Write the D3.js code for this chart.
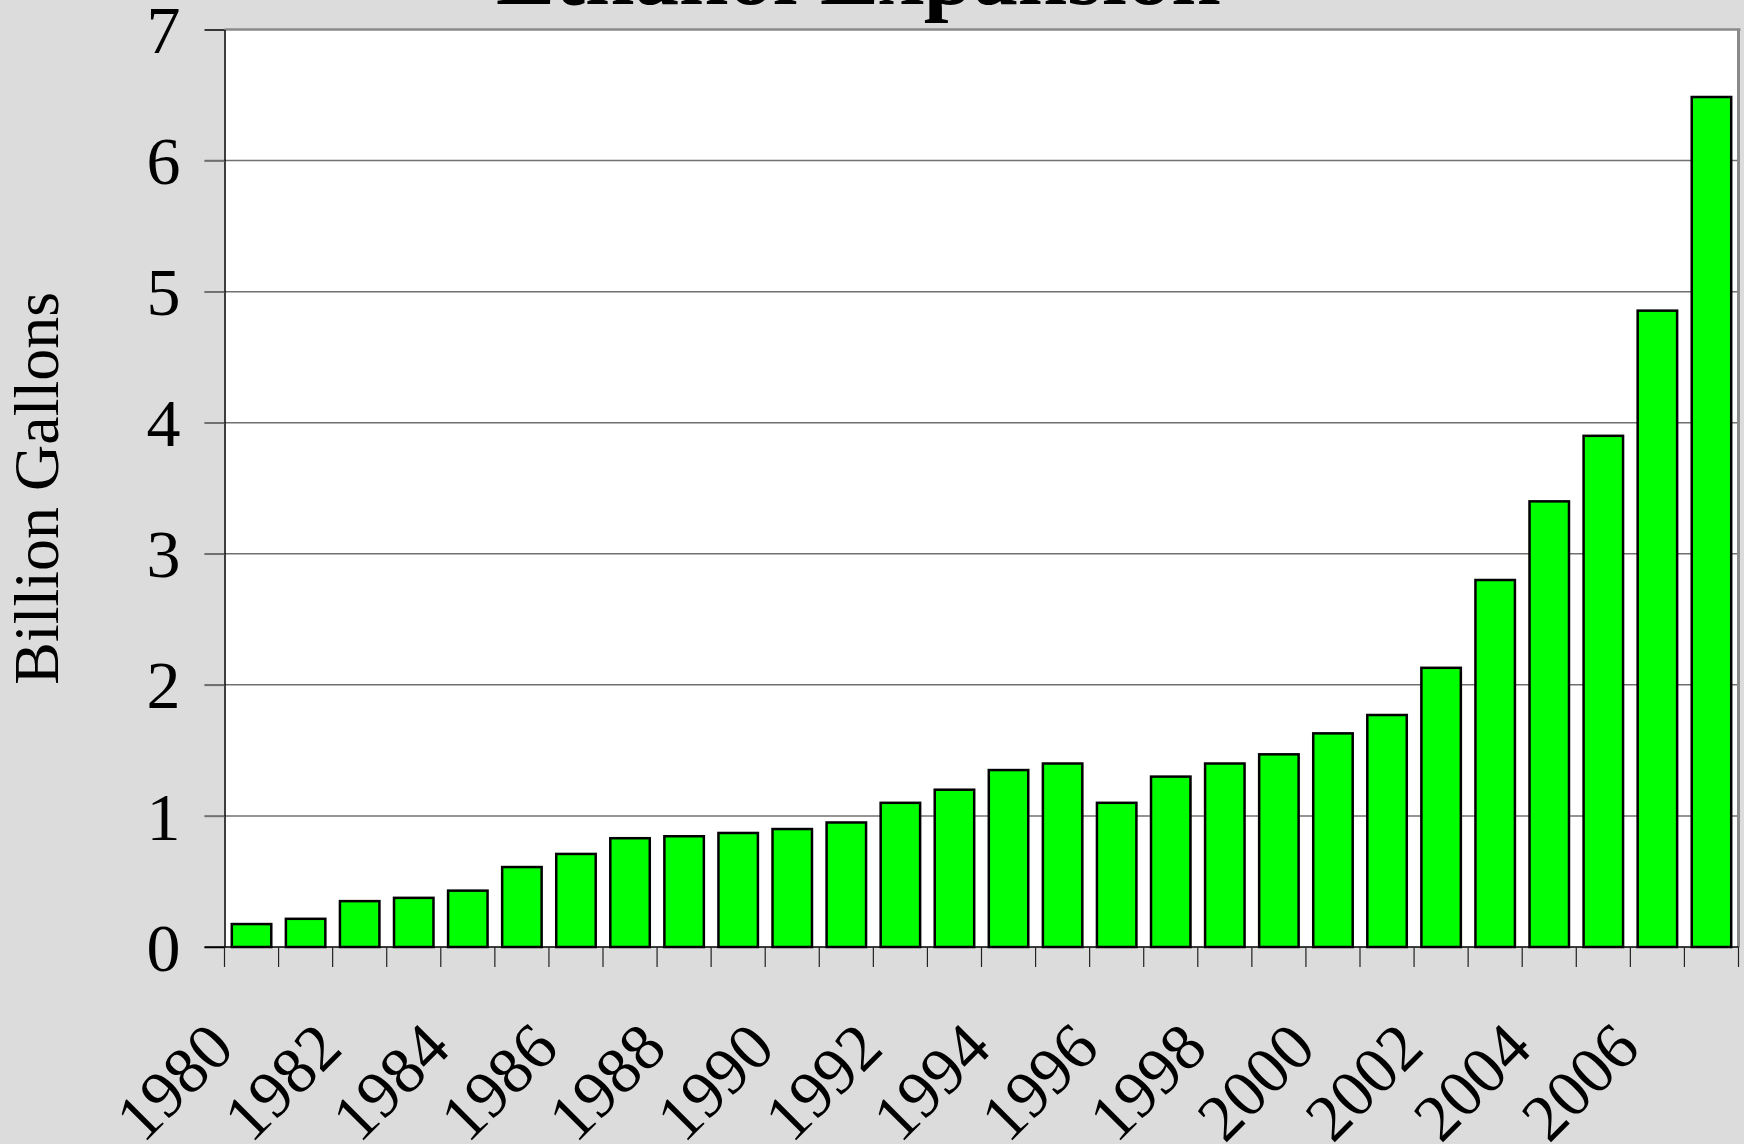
<!DOCTYPE html>
<html><head><meta charset="utf-8">
<script src="https://cdn.jsdelivr.net/npm/d3@7"></script>
<style>
html,body{margin:0;padding:0;background:#dcdcdc;}
svg{display:block;}
text{font-family:"Liberation Serif","Times New Roman",serif;fill:#000;}
</style></head><body>
<svg id="chart" width="1744" height="1144"></svg>
<script>
const years = ["1980","1981","1982","1983","1984","1985","1986","1987","1988","1989","1990","1991","1992","1993","1994","1995","1996","1997","1998","1999","2000","2001","2002","2003","2004","2005","2006","2007"];
const production = [0.175,0.215,0.35,0.375,0.43,0.61,0.71,0.83,0.845,0.87,0.90,0.95,1.10,1.20,1.35,1.40,1.10,1.30,1.40,1.47,1.63,1.77,2.13,2.80,3.40,3.90,4.855,6.485];
const yTickValues = [0,1,2,3,4,5,6,7];
const xTickLabels = ["1980","1982","1984","1986","1988","1990","1992","1994","1996","1998","2000","2002","2004","2006"];
const titleText = "Ethanol Expansion";
const yAxisTitle = "Billion Gallons";

(function () {
const W = 1744, H = 1144;
const mLeft = 224.5, mRight = 1738.5, mTop = 29.5, mBottom = 947;
const svg = d3.select("#chart");
svg.append("rect").attr("width", W).attr("height", H).attr("fill", "#dcdcdc");

const x = d3.scaleBand().domain(years).range([mLeft, mRight]).paddingInner(0.27).paddingOuter(0.135);
const y = d3.scaleLinear().domain([0, 7]).range([mBottom, mTop]);

// plot area
svg.append("rect").attr("x", mLeft).attr("y", mTop).attr("width", mRight - mLeft).attr("height", mBottom - mTop).attr("fill", "#fff");

// gridlines
svg.append("g").selectAll("line").data(yTickValues.filter(v => v > 0 && v < 7)).join("line")
  .attr("x1", mLeft - 20).attr("x2", mRight).attr("y1", d => y(d)).attr("y2", d => y(d))
  .attr("stroke", "#707070").attr("stroke-width", 1.5);

// top and right frame (gray)
svg.append("line").attr("x1", mLeft).attr("x2", mRight + 2).attr("y1", y(7)).attr("y2", y(7))
  .attr("stroke", "#8a8a8a").attr("stroke-width", 2.5);
svg.append("line").attr("x1", mRight).attr("x2", mRight).attr("y1", y(7)).attr("y2", y(0))
  .attr("stroke", "#8a8a8a").attr("stroke-width", 3);

// bars
svg.append("g").selectAll("rect").data(years).join("rect")
  .attr("x", d => x(d)).attr("width", x.bandwidth())
  .attr("y", (d, i) => y(production[i])).attr("height", (d, i) => y(0) - y(production[i]))
  .attr("fill", "#00ff00").attr("stroke", "#000").attr("stroke-width", 2.5);

// y axis
const yAxis = svg.append("g").attr("transform", `translate(${mLeft},0)`)
  .call(d3.axisLeft(y).tickValues(yTickValues).tickSize(20).tickSizeOuter(0).tickPadding(24).tickFormat(d3.format("d")));
yAxis.select(".domain").attr("stroke", "#000").attr("stroke-width", 1.5);
yAxis.selectAll(".tick line").attr("stroke", d => (d === 0 || d === 7) ? "#000" : "#707070").attr("stroke-width", 1.5);
yAxis.selectAll(".tick text").attr("font-size", 68).attr("font-family", "Liberation Serif, Times New Roman, serif").attr("dy", "0.34em");

// x axis baseline
svg.append("line").attr("x1", mLeft - 20).attr("x2", mRight).attr("y1", y(0)).attr("y2", y(0))
  .attr("stroke", "#000").attr("stroke-width", 1.5);
// x ticks at band boundaries
const boundaries = years.map(d => x(d) - x.step() * x.paddingOuter()).concat([x.range()[1]]);
svg.append("g").selectAll("line").data(boundaries).join("line")
  .attr("x1", d => d).attr("x2", d => d).attr("y1", y(0)).attr("y2", y(0) + 20)
  .attr("stroke", "#222").attr("stroke-width", 1.2);

// x labels
svg.append("g").selectAll("text").data(xTickLabels).join("text")
  .attr("transform", d => `translate(${x(d) + x.bandwidth() / 2 - 15},${y(0) + 104}) rotate(-45)`)
  .attr("text-anchor", "end").attr("font-size", 66).text(d => d);

// title
svg.append("text").attr("x", 496).attr("y", 4).attr("font-size", 89).attr("font-weight", "bold").text(titleText);

// y axis title
svg.append("text").attr("transform", `translate(58,${(y(0) + y(7)) / 2}) rotate(-90)`)
  .attr("text-anchor", "middle").attr("font-size", 64).text(yAxisTitle);
})();
</script>
</body></html>
